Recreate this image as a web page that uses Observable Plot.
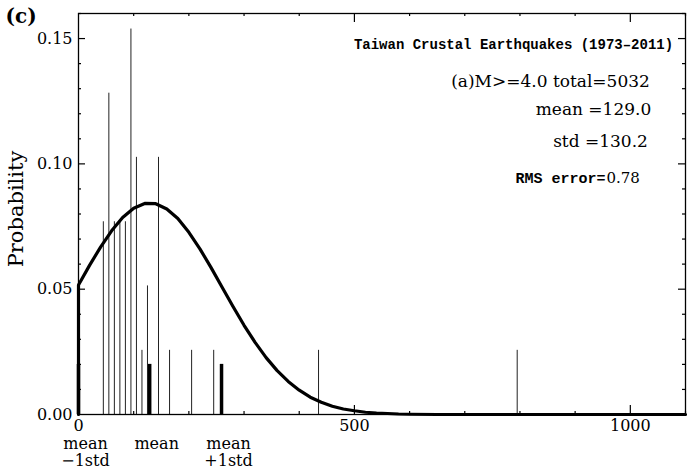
<!DOCTYPE html>
<html><head><meta charset="utf-8">
<script src="https://cdn.jsdelivr.net/npm/d3@7"></script>
<script src="https://cdn.jsdelivr.net/npm/@observablehq/plot@0.6"></script>
<style>
html,body{margin:0;padding:0;background:#fff;}
#chart svg{display:block;}
g[aria-label="mean-label"] text{letter-spacing:2px;}
</style>
</head><body><div id="chart"></div>
<script>
// Histogram bins (bin centres, width 10) and their probabilities
const binCenters = [45, 55, 65, 75, 85, 95, 105, 115, 125, 145, 165, 205, 245, 435, 795];
const binProb = [0.0769, 0.1282, 0.0769, 0.0769, 0.0769, 0.1538, 0.1026, 0.0256, 0.0513, 0.1026, 0.0256, 0.0256, 0.0256, 0.0256, 0.0256];

// Fitted curve
const curveX = [0, 0, 20, 40, 60, 80, 100, 120, 140, 160, 180, 200, 220, 240, 260, 280, 300, 320, 340, 360, 380, 400, 420, 440, 460, 480, 500, 520, 540, 560, 580, 600, 650, 700, 1100];
const curveP = [0, 0.0517, 0.0595, 0.0668, 0.0733, 0.0786, 0.0823, 0.0842, 0.0841, 0.0820, 0.0782, 0.0727, 0.0661, 0.0587, 0.0509, 0.0431, 0.0356, 0.0288, 0.0227, 0.0175, 0.0132, 0.0097, 0.0069, 0.0049, 0.0033, 0.0022, 0.0015, 0.0009, 0.0006, 0.0004, 0.0002, 0.0001, 0.0000, 0, 0];

// Statistics
const meanValue = 129.0;
const stdValue = 130.2;
const markerHeight = 0.02;
const markerLabelsTop = ["mean", "mean", "mean"];
const markerLabelsBottom = ["\u22121std", "", "+1std"];

// Ticks
const xTickLabels = [0, 500, 1000];
const xMinorTicks = [100, 200, 300, 400, 600, 700, 800, 900, 1100];
const xMajorTicks = [500, 1000];
const yTickLabels = [0, 0.05, 0.10, 0.15];
const yMinorTicks = [0.01, 0.02, 0.03, 0.04, 0.06, 0.07, 0.08, 0.09, 0.11, 0.12, 0.13, 0.14, 0.16];
const yMajorTicks = [0.05, 0.10, 0.15];

// Texts
const panelLabel = "(c)";
const yLabel = "Probability";
const titleText = "Taiwan Crustal Earthquakes (1973\u20132011)";
const subsetText = "(a)M>=4.0 total=5032";
const meanText = "mean =129.0";
const stdText = "std =130.2";
const rmsLabel = "RMS error=";
const rmsValue = "0.78";

const bins = binCenters.map((x, i) => ({x, p: binProb[i]}));
const curve = curveX.map((x, i) => ({x, p: curveP[i]}));
const markers = [Math.max(0, meanValue - stdValue), meanValue, meanValue + stdValue];

const serif = "DejaVu Serif";
const mono = "Liberation Mono";

const W = 688, H = 469, ML = 78, MR = 3, MT = 13, MB = 55;
const FW = W - ML - MR, FH = H - MT - MB;
const tickStyle = {stroke: "black", strokeWidth: 1.2};

const chart = Plot.plot({
  width: W,
  height: H,
  marginLeft: ML,
  marginRight: MR,
  marginTop: MT,
  marginBottom: MB,
  x: {domain: [0, 1100]},
  y: {domain: [0, 0.16]},
  style: {background: "white", color: "black", fontFamily: serif, fontSize: "16px"},
  marks: [
    Plot.ruleX(bins, {x: "x", y1: 0, y2: "p", stroke: "#222", strokeWidth: 1}),
    Plot.ruleX(markers, {x: d => d, y1: 0, y2: markerHeight, stroke: "black", strokeWidth: 3.5}),
    Plot.line(curve, {x: "x", y: "p", stroke: "black", strokeWidth: 3.2, strokeLinejoin: "round"}),
    Plot.frame({stroke: "black", strokeWidth: 1.3}),
    // inward ticks
    Plot.tickX(xMinorTicks, {x: d => d, insetTop: FH - 3, ...tickStyle}),
    Plot.tickX(xMajorTicks, {x: d => d, insetTop: FH - 9, ...tickStyle}),
    Plot.tickX(xMinorTicks, {x: d => d, insetBottom: FH - 3, ...tickStyle}),
    Plot.tickX(xMajorTicks, {x: d => d, insetBottom: FH - 9, ...tickStyle}),
    Plot.tickY(yMinorTicks, {y: d => d, insetRight: FW - 3, ...tickStyle}),
    Plot.tickY(yMajorTicks, {y: d => d, insetRight: FW - 7, ...tickStyle}),
    Plot.tickY(yMinorTicks, {y: d => d, insetLeft: FW - 3, ...tickStyle}),
    Plot.tickY(yMajorTicks, {y: d => d, insetLeft: FW - 7, ...tickStyle}),
    // tick labels
    Plot.axisX(xTickLabels, {anchor: "bottom", label: null, tickSize: 0, tickPadding: 5, tickFormat: d => String(d), fontSize: 16, fill: "black"}),
    Plot.axisY(yTickLabels, {anchor: "left", label: null, tickSize: 0, tickPadding: 6, tickFormat: d3.format(".2f"), fontSize: 16, fill: "black"}),
    // marker labels
    Plot.text(markers, {x: d => d, text: (d, i) => markerLabelsTop[i], frameAnchor: "bottom", dx: 7, dy: 34, lineAnchor: "bottom", fontSize: 16, fill: "black", ariaLabel: "mean-label"}),
    Plot.text(markers, {x: d => d, text: (d, i) => markerLabelsBottom[i], frameAnchor: "bottom", dx: 7, dy: 51, lineAnchor: "bottom", fontSize: 16, fill: "black"}),
    // outer labels
    Plot.text([panelLabel], {text: d => d, frameAnchor: "top-left", dx: -73, dy: 9, textAnchor: "start", lineAnchor: "bottom", fontSize: 20, fontWeight: "bold", fill: "black"}),
    Plot.text([yLabel], {text: d => d, frameAnchor: "left", dx: -62, dy: -5, rotate: -90, textAnchor: "middle", lineAnchor: "middle", fontSize: 21, fill: "black"}),
    // annotation block
    Plot.text([titleText], {text: d => d, frameAnchor: "top-right", dx: -172, dy: 35, textAnchor: "middle", lineAnchor: "bottom", fontFamily: mono, fontWeight: "bold", fontSize: 14, fill: "black"}),
    Plot.text([subsetText], {text: d => d, frameAnchor: "top-right", dx: -135, dy: 73, textAnchor: "middle", lineAnchor: "bottom", fontSize: 17, fill: "black"}),
    Plot.text([meanText], {text: d => d, frameAnchor: "top-right", dx: -92, dy: 101, textAnchor: "middle", lineAnchor: "bottom", fontSize: 17, fill: "black"}),
    Plot.text([stdText], {text: d => d, frameAnchor: "top-right", dx: -85, dy: 133, textAnchor: "middle", lineAnchor: "bottom", fontSize: 17, fill: "black"}),
    Plot.text([rmsLabel], {text: d => d, frameAnchor: "top-right", dx: -80, dy: 169, textAnchor: "end", lineAnchor: "bottom", fontFamily: mono, fontWeight: "bold", fontSize: 15, fill: "black"}),
    Plot.text([rmsValue], {text: d => d, frameAnchor: "top-right", dx: -79, dy: 169, textAnchor: "start", lineAnchor: "bottom", fontSize: 15, fill: "black"})
  ]
});
document.getElementById("chart").appendChild(chart);
</script>
</body></html>
